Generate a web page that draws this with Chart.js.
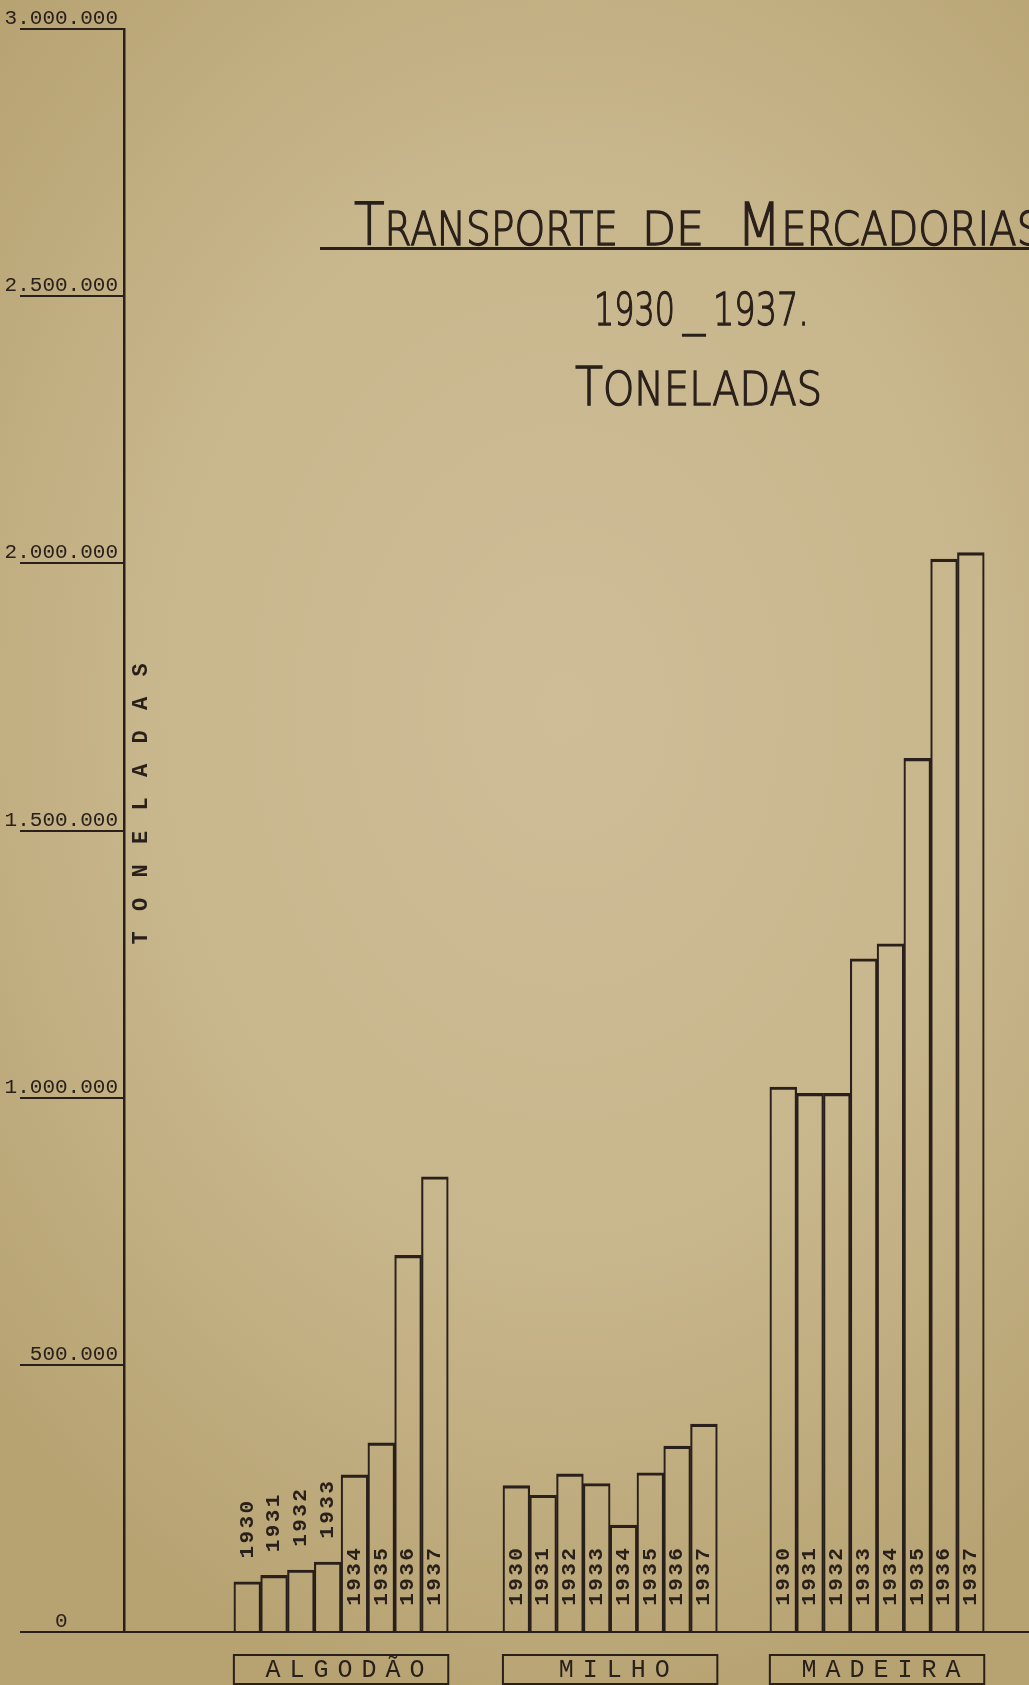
<!DOCTYPE html>
<html>
<head>
<meta charset="utf-8">
<script src="https://cdn.jsdelivr.net/npm/chart.js@4.4.1/dist/chart.umd.min.js"></script>
<style>
  html, body { margin: 0; padding: 0; overflow: hidden; }
  body {
    width: 1029px; height: 1685px;
    background: radial-gradient(ellipse 75% 60% at 55% 42%, #cebd97 0%, #c8b68c 55%, #b7a372 100%);
  }
  #wrap { position: relative; width: 1029px; height: 1685px; }
</style>
</head>
<body>
<div id="wrap"><canvas id="chart"></canvas></div>
<script>
// values in tonnes
const years = ['1930', '1931', '1932', '1933', '1934', '1935', '1936', '1937'];
const groups = ['ALGODÃO', 'MILHO', 'MADEIRA'];
const algodao = [94000, 106000, 116000, 131000, 294000, 354000, 705000, 852000];
const milho = [274000, 256000, 296000, 278000, 200000, 298000, 348000, 389000];
const madeira = [1020000, 1008000, 1008000, 1260000, 1288000, 1635000, 2008000, 2020000];
const yTickLabels = ['0    ', '500.000', '1.000.000', '1.500.000', '2.000.000', '2.500.000', '3.000.000'];

const ink = '#2a201b';
// horizontal layout in bar-width units from the y axis
const groupStart = [4.1, 14.14, 24.1];
const xMax = 33.77;

const series = [algodao, milho, madeira];
const datasets = series.map((vals, g) => ({
  label: groups[g],
  data: vals.map((v, i) => ({ x: groupStart[g] + i + 0.5, y: v })),
  backgroundColor: 'rgba(0,0,0,0)',
  borderColor: ink,
  borderWidth: { top: 2.5, left: 1.5, right: 1.5, bottom: 0 },
  borderSkipped: false
}));

// draws a word made of mixed-size parts, squeezed to a given width
function drawWord(ctx, parts, x, y, width) {
  const font = s => '200 ' + s + 'px "DejaVu Sans", sans-serif';
  let w = 0;
  parts.forEach(p => { ctx.font = font(p[1]); w += ctx.measureText(p[0]).width; });
  ctx.save();
  ctx.translate(x, y);
  ctx.scale(width / w, 1);
  let cx = 0;
  parts.forEach(p => {
    ctx.font = font(p[1]);
    ctx.fillText(p[0], cx, 0);
    ctx.strokeText(p[0], cx, 0);
    cx += ctx.measureText(p[0]).width;
  });
  ctx.restore();
}

const inkLabels = {
  id: 'inkLabels',
  afterDatasetsDraw(chart) {
    const { ctx, chartArea } = chart;
    ctx.save();
    ctx.fillStyle = ink;
    ctx.strokeStyle = ink;
    ctx.textAlign = 'center';
    ctx.textBaseline = 'middle';
    chart.data.datasets.forEach((ds, di) => {
      const meta = chart.getDatasetMeta(di);
      ctx.font = 'bold 21px "Liberation Mono", monospace';
      meta.data.forEach((bar, i) => {
        const h = bar.base - bar.y;
        const start = h > 90 ? bar.base - 24 : bar.y - 22;
        ctx.save();
        ctx.translate(bar.x, start);
        ctx.rotate(-Math.PI / 2);
        [...years[i]].forEach((c, k) => ctx.fillText(c, 7.5 + k * 15, 0));
        ctx.restore();
      });
      // boxed group name under the axis
      const first = meta.data[0], last = meta.data[meta.data.length - 1];
      const l = first.x - first.width / 2, r = last.x + last.width / 2;
      const top = chartArea.bottom + 23, bh = 29;
      ctx.lineWidth = 2;
      ctx.strokeRect(l, top, r - l, bh);
      ctx.font = '25px "Liberation Mono", monospace';
      const name = groups[di];
      const cx = (l + r) / 2 + 4;
      [...name].forEach((c, k) => ctx.fillText(c, cx + (k - (name.length - 1) / 2) * 24, top + bh / 2 + 1));
    });
    // vertical axis caption
    ctx.font = 'bold 22px "Liberation Mono", monospace';
    const cap = 'TONELADAS';
    ctx.save();
    ctx.translate(chartArea.left + 17, 938);
    ctx.rotate(-Math.PI / 2);
    [...cap].forEach((c, k) => ctx.fillText(c, k * 33.5, 0));
    ctx.restore();
    ctx.restore();
  },
  afterDraw(chart) {
    const ctx = chart.ctx;
    ctx.save();
    ctx.fillStyle = ink;
    ctx.strokeStyle = ink;
    ctx.lineWidth = 1.3;
    ctx.textAlign = 'left';
    ctx.textBaseline = 'alphabetic';
    drawWord(ctx, [['T', 59], ['RANSPORTE', 46]], 354, 245, 264);
    drawWord(ctx, [['DE', 46]], 642, 245, 62);
    drawWord(ctx, [['M', 59], ['ERCADORIAS', 46]], 737, 245, 305);
    ctx.fillRect(320, 247, 709, 3);
    drawWord(ctx, [['1930', 45]], 594, 325, 81);
    drawWord(ctx, [['_', 45]], 683, 325, 22);
    drawWord(ctx, [['1937.', 45]], 713, 325, 96);
    drawWord(ctx, [['T', 53], ['ONELADAS', 46]], 575, 405, 247);
    ctx.restore();
  }
};

new Chart(document.getElementById('chart'), {
  type: 'bar',
  data: { datasets },
  options: {
    responsive: true,
    maintainAspectRatio: false,
    animation: false,
    layout: { padding: { top: 29, right: 0, bottom: 0, left: 0 } },
    plugins: { legend: { display: false }, tooltip: { enabled: false } },
    datasets: { bar: { barPercentage: 1, categoryPercentage: 1, grouped: false } },
    scales: {
      x: {
        type: 'linear',
        min: 0,
        max: xMax,
        offset: false,
        grid: { display: false, offset: false },
        ticks: { display: false },
        border: { display: true, color: ink, width: 2 },
        afterFit: s => { s.height = 53; }
      },
      y: {
        min: 0,
        max: 3000000,
        ticks: {
          stepSize: 500000,
          padding: -98,
          color: ink,
          font: { family: '"Liberation Mono", monospace', size: 21, lineHeight: 1 },
          callback: v => [yTickLabels[Math.round(v / 500000)], '']
        },
        grid: { drawOnChartArea: false, drawTicks: true, tickLength: 104, color: ink, lineWidth: 2 },
        border: { display: true, color: ink, width: 2.5 },
        afterFit: s => { s.width = 124; }
      }
    }
  },
  plugins: [inkLabels]
});
</script>
</body>
</html>
